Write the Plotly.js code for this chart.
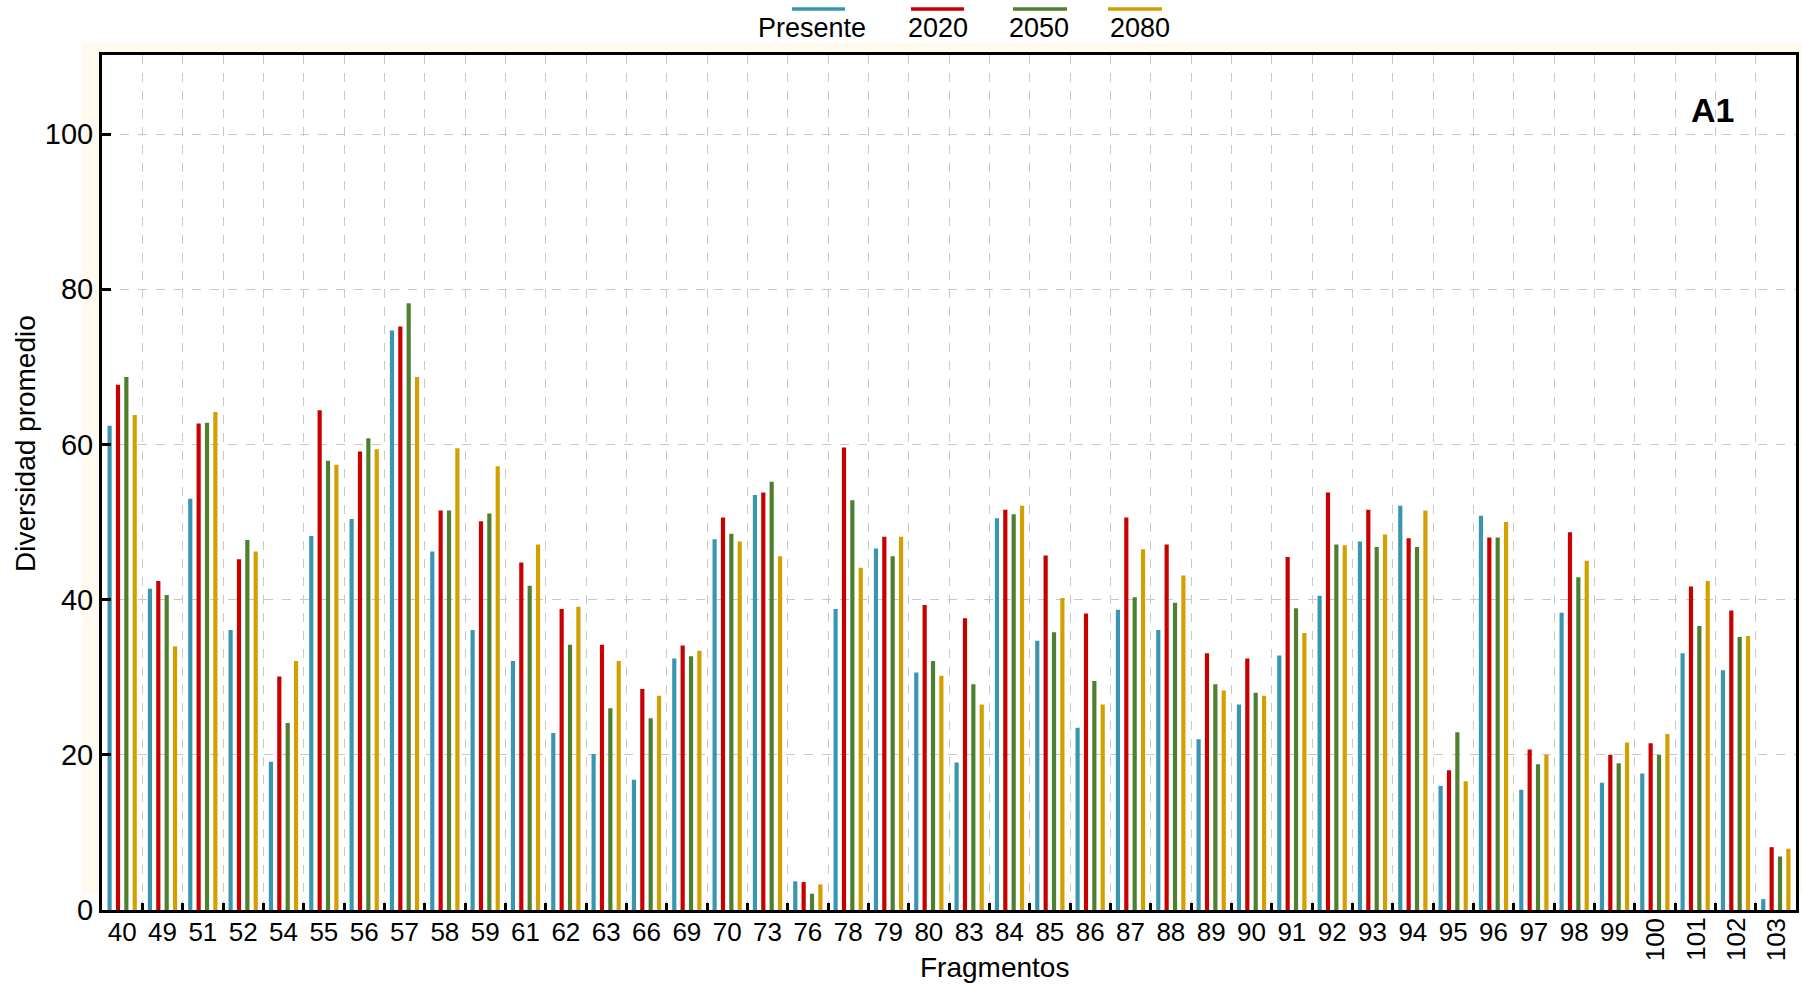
<!DOCTYPE html>
<html>
<head>
<meta charset="utf-8">
<script src="https://cdn.plot.ly/plotly-3.0.1.min.js"></script>
<style>
html,body{margin:0;padding:0;background:#fff;}
#chart{width:1802px;height:984px;}
</style>
</head>
<body>
<div id="chart"></div>
<script>
// ---- data ----
var fragmentos = ["40","49","51","52","54","55","56","57","58","59","61","62","63","66","69","70","73","76","78","79","80","83","84","85","86","87","88","89","90","91","92","93","94","95","96","97","98","99","100","101","102","103"];
var presente = [62.4,41.4,53.0,36.1,19.1,48.2,50.4,74.7,46.2,36.1,32.1,22.8,20.1,16.8,32.4,47.8,53.5,3.7,38.8,46.6,30.6,19.0,50.5,34.7,23.5,38.7,36.1,22.0,26.5,32.8,40.5,47.5,52.1,16.0,50.8,15.5,38.3,16.4,17.6,33.1,30.9,1.4];
var y2020 = [67.7,42.4,62.7,45.2,30.1,64.4,59.1,75.2,51.5,50.1,44.8,38.8,34.2,28.5,34.1,50.6,53.8,3.6,59.6,48.1,39.3,37.6,51.6,45.7,38.2,50.6,47.1,33.1,32.4,45.5,53.8,51.6,47.9,18.0,48.0,20.7,48.7,20.0,21.5,41.7,38.6,8.1];
var y2050 = [68.7,40.6,62.8,47.7,24.1,57.9,60.8,78.2,51.5,51.1,41.8,34.2,26.0,24.7,32.7,48.5,55.2,2.1,52.8,45.6,32.1,29.1,51.0,35.8,29.5,40.3,39.6,29.1,28.0,38.9,47.1,46.8,46.8,22.9,48.0,18.8,42.9,18.9,20.0,36.6,35.2,6.9];
var y2080 = [63.8,34.0,64.2,46.2,32.1,57.4,59.4,68.7,59.5,57.2,47.1,39.1,32.1,27.6,33.4,47.5,45.6,3.3,44.1,48.1,30.2,26.5,52.1,40.2,26.5,46.5,43.1,28.3,27.6,35.7,47.0,48.4,51.5,16.6,50.0,20.0,45.0,21.6,22.7,42.4,35.3,7.9];
var seriesNames = ["Presente","2020","2050","2080"];
var seriesColors = ["#3A96B0","#C80000","#4F8030","#D4A000"];
var yTickVals = [0,20,40,60,80,100];
var rotatedLabels = ["100","101","102","103"];
var panelLabel = "A1";
var xTitle = "Fragmentos";
var yTitle = "Diversidad promedio";

// ---- layout helpers ----
var W = 1802, H = 984;
var M = {l:102, r:6, t:55, b:74};
var PW = W - M.l - M.r, PH = H - M.t - M.b;
function px(x){ return (x - M.l) / PW; }
function py(y){ return (H - M.b - y) / PH; }

var FONT = "Liberation Sans, Arial, sans-serif";
var values = [presente, y2020, y2050, y2080];

var traces = seriesNames.map(function(n, i){
  return {
    type: "bar",
    name: n,
    x: fragmentos,
    y: values[i],
    marker: {color: seriesColors[i], line: {width: 0}},
    hoverinfo: "x+y+name"
  };
});

var tickText = fragmentos.map(function(f){ return rotatedLabels.indexOf(f) >= 0 ? "" : f; });

var annotations = [];
// rotated tick labels for the last fragments (category index positions)
rotatedLabels.forEach(function(f){
  annotations.push({
    x: fragmentos.indexOf(f), xref: "x", y: 0, yref: "paper",
    text: f, textangle: -90, showarrow: false,
    xanchor: "center", yanchor: "top", yshift: -6,
    font: {family: FONT, size: 26, color: "#000"}
  });
});
// axis titles
annotations.push({x: px(994), y: py(967), xref: "paper", yref: "paper", text: xTitle,
  showarrow: false, xanchor: "center", yanchor: "middle", font: {family: FONT, size: 28, color: "#000"}});
annotations.push({x: px(25), y: py(444), xref: "paper", yref: "paper", text: yTitle, textangle: -90,
  showarrow: false, xanchor: "center", yanchor: "middle", font: {family: FONT, size: 28, color: "#000"}});
// panel label
annotations.push({x: px(1712), y: py(110), xref: "paper", yref: "paper", text: "<b>" + panelLabel + "</b>",
  showarrow: false, xanchor: "center", yanchor: "middle", font: {family: FONT, size: 34, color: "#000"}});

// custom legend: line above label
var legTextX = [812, 938, 1039, 1140];
var legLineX = [[792,845],[911,964],[1013,1067],[1108,1162]];
var shapes = [
  {type: "rect", xref: "paper", yref: "paper", x0: px(82), x1: px(1802), y0: py(893), y1: py(43),
   fillcolor: "#FFF9EE", line: {width: 0}, layer: "below"},
  {type: "rect", xref: "paper", yref: "paper", x0: 0, x1: 1, y0: 0, y1: 1,
   fillcolor: "#FFFFFF", line: {width: 0}, layer: "below"}
];
seriesNames.forEach(function(n, i){
  annotations.push({x: px(legTextX[i]), y: py(28), xref: "paper", yref: "paper", text: n,
    showarrow: false, xanchor: "center", yanchor: "middle", font: {family: FONT, size: 27, color: "#000"}});
  shapes.push({type: "line", xref: "paper", yref: "paper", x0: px(legLineX[i][0]), x1: px(legLineX[i][1]),
    y0: py(9), y1: py(9), line: {color: seriesColors[i], width: 3.5}});
});

var layout = {
  width: W, height: H,
  margin: M,
  paper_bgcolor: "#FFFFFF",
  plot_bgcolor: "rgba(0,0,0,0)",
  showlegend: false,
  barmode: "group",
  bargap: 0.17,
  bargroupgap: 0.5,
  font: {family: FONT, size: 24, color: "#000"},
  xaxis: {
    type: "category",
    range: [-0.5, fragmentos.length - 0.5],
    autorange: false,
    tickmode: "array",
    tickvals: fragmentos,
    ticktext: tickText,
    tickangle: 0,
    tickson: "boundaries",
    ticks: "inside", ticklen: 7, tickwidth: 3, tickcolor: "#000",
    showline: true, linewidth: 3, linecolor: "#000", mirror: true,
    showgrid: true, gridcolor: "#C8C8C8", gridwidth: 1, griddash: "dash",
    tickfont: {family: FONT, size: 26, color: "#000"},
    ticklabelstandoff: -3,
    zeroline: false, fixedrange: true
  },
  yaxis: {
    range: [0, 110.2],
    autorange: false,
    tickmode: "array", tickvals: yTickVals,
    ticks: "inside", ticklen: 9, tickwidth: 3, tickcolor: "#000",
    showline: true, linewidth: 3, linecolor: "#000", mirror: true,
    showgrid: true, gridcolor: "#C8C8C8", gridwidth: 1, griddash: "dash",
    tickfont: {family: FONT, size: 29, color: "#000"},
    zeroline: false, fixedrange: true
  },
  annotations: annotations,
  shapes: shapes
};

Plotly.newPlot("chart", traces, layout, {displayModeBar: false, staticPlot: true});
</script>
</body>
</html>
